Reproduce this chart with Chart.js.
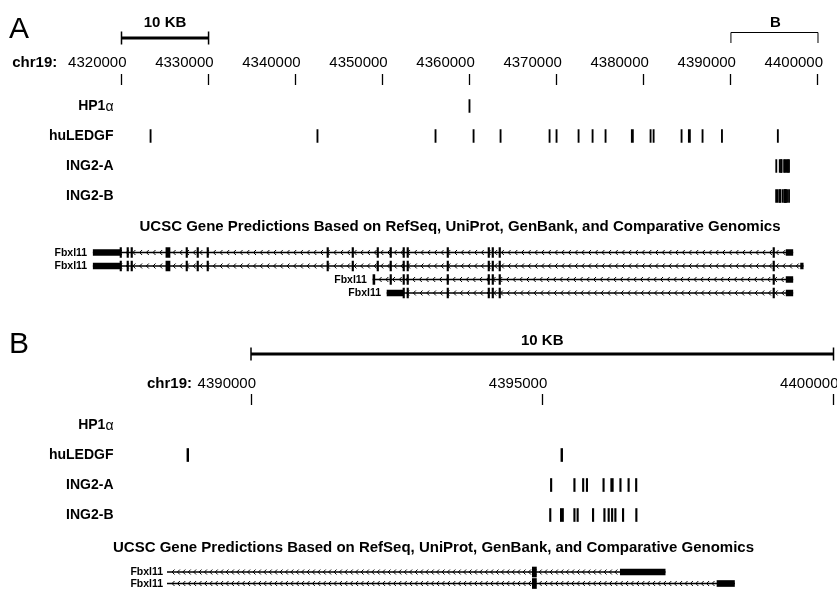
<!DOCTYPE html>
<html>
<head>
<meta charset="utf-8">
<script src="https://cdn.jsdelivr.net/npm/chart.js@4.4.1/dist/chart.umd.min.js"></script>
<style>
  html, body { margin: 0; padding: 0; background: #fff; }
  #wrapA { position: absolute; left: 0; top: 0; width: 837px; height: 310px; }
  #wrapB { position: absolute; left: 0; top: 310px; width: 837px; height: 279px; }
</style>
</head>
<body>
<div id="wrapA"><canvas id="chartA"></canvas></div>
<div id="wrapB"><canvas id="chartB"></canvas></div>
<script>
const FONT = "'Liberation Sans', Arial, Helvetica, sans-serif";

// axis
const chromName = 'chr19:';
const ticksA = [4320000, 4330000, 4340000, 4350000, 4360000, 4370000, 4380000, 4390000, 4400000];
const ticksB = [4390000, 4395000, 4400000];

// tracks (binding sites, bp start/end)
const trackNames = ['HP1\u03b1', 'huLEDGF', 'ING2-A', 'ING2-B'];
const hp1Sites = [[4359900, 4359930]];
const ledgfSites = [
  [4323270, 4323300], [4342440, 4342470], [4356000, 4356030], [4360370, 4360400],
  [4363470, 4363500], [4369100, 4369130], [4369900, 4369930], [4372430, 4372460],
  [4374040, 4374070], [4375530, 4375560], [4378550, 4378800], [4380700, 4380730],
  [4381050, 4381080], [4384260, 4384290], [4385100, 4385350], [4386670, 4386700],
  [4388900, 4388930], [4395320, 4395350]
];
const ing2aSites = [
  [4395140, 4395165], [4395540, 4395565], [4395690, 4395715], [4395755, 4395780],
  [4396040, 4396065], [4396175, 4396220], [4396330, 4396355], [4396470, 4396495],
  [4396600, 4396625]
];
const ing2bSites = [
  [4395125, 4395150], [4395310, 4395365], [4395540, 4395565], [4395595, 4395620],
  [4395860, 4395885], [4396055, 4396080], [4396128, 4396153], [4396187, 4396212],
  [4396243, 4396268], [4396375, 4396400], [4396603, 4396628]
];

// gene predictions
const geneTitle = 'UCSC Gene Predictions Based on RefSeq, UniProt, GenBank, and Comparative Genomics';
const geneName = 'Fbxl11';
const txStart = [4316750, 4316750, 4348880, 4350500];
const txEnd = [4397110, 4398300, 4397110, 4397110];
const sharedExons = [
  [4350840, 4350900], [4352330, 4352400], [4352790, 4352860], [4357390, 4357450],
  [4362100, 4362160], [4362560, 4362620], [4363360, 4363430], [4394830, 4394900]
];
const longExons = [
  [4319830, 4319960], [4320630, 4320700], [4321090, 4321160], [4325100, 4325570],
  [4327410, 4327470], [4328670, 4328740], [4329820, 4329900], [4343600, 4343670],
  [4346480, 4346540], [4349350, 4349420]
];
const cdsExons = [
  longExons.concat(sharedExons),
  longExons.concat(sharedExons),
  [[4348880, 4349100]].concat(sharedExons),
  sharedExons.slice(1)
];
const utrBlocks = [
  [[4316750, 4319830], [4396340, 4397110]],
  [[4316750, 4319830], [4398000, 4398300]],
  [[4396340, 4397110]],
  [[4350500, 4352330], [4396340, 4397110]]
];

Chart.defaults.font.family = FONT;
Chart.defaults.color = '#000';

const panels = [
  { canvas: 'chartA', letter: 'A', letterBase: 38,
    min: 4316600, max: 4400200, pad: { top: 52, left: 91.9, right: 17.26, bottom: 0 },
    ticks: ticksA, tickPad: 2, yMax: 7.5, trackTop: 0.7, titleRow: 4.733, titleX: 460,
    geneRow0: 5.583, geneStep: 0.45, showTx: [0, 1, 2, 3],
    barFrom: 4320000, barY: 38, barLabelBase: 27, chrRight: 57.3, chevGap: 6.7, geneGap: 6,
    bracket: { from: 4390000, to: 4400000, y: 32.5, bottom: 43, labelBase: 26.5 } },
  { canvas: 'chartB', letter: 'B', letterBase: 43,
    min: 4388560, max: 4400060, pad: { top: 64, left: 167.12, right: 0, bottom: 0 },
    ticks: ticksB, tickPad: 1, yMax: 6.133, trackTop: 0.667, titleRow: 4.767, titleX: 433.5,
    geneRow0: 5.567, geneStep: 0.383, showTx: [0, 1],
    barFrom: 4390000, barY: 44, barLabelBase: 35, chrRight: 192, chevGap: 5.4, geneGap: 4,
    bracket: null }
];

function spans(list, row) {
  return list.map(s => ({ x: [s[0], s[1]], y: row }));
}
function barSet(data, thickness, minLen) {
  return { data: data, barThickness: thickness, minBarLength: minLen,
           backgroundColor: '#000', borderWidth: 0, grouped: false };
}

function buildDatasets(p) {
  const sets = [];
  [hp1Sites, ledgfSites, ing2aSites, ing2bSites].forEach((list, i) => {
    sets.push(barSet(spans(list, p.trackTop + i), 13, 1.2));
  });
  p.showTx.forEach((t, r) => {
    const row = p.geneRow0 + r * p.geneStep;
    sets.push(barSet([{ x: [txStart[t], txEnd[t]], y: row }], 1, 0));
    sets.push(barSet(spans(utrBlocks[t], row), 6, 1.5));
    sets.push(barSet(spans(cdsExons[t], row), 10, 1.5));
  });
  return sets;
}

function decor(p) {
  return {
    id: 'decor' + p.letter,
    beforeDatasetsDraw(chart) {
      // strand arrows on the intron lines
      const { ctx, chartArea, scales: { x, y } } = chart;
      ctx.save();
      ctx.strokeStyle = '#000';
      ctx.lineWidth = 1;
      p.showTx.forEach((t, r) => {
        const yy = y.getPixelForValue(p.geneRow0 + r * p.geneStep);
        const x0 = Math.max(x.getPixelForValue(txStart[t]), chartArea.left);
        const x1 = Math.min(x.getPixelForValue(txEnd[t]), chartArea.right);
        ctx.beginPath();
        for (let cx = x0 + p.chevGap; cx < x1 - 2; cx += p.chevGap) {
          ctx.moveTo(cx + 2, yy - 2.5);
          ctx.lineTo(cx - 0.5, yy);
          ctx.lineTo(cx + 2, yy + 2.5);
        }
        ctx.stroke();
      });
      ctx.restore();
    },
    afterDraw(chart) {
      const { ctx, chartArea, scales: { x, y } } = chart;
      ctx.save();
      ctx.fillStyle = '#000';
      ctx.strokeStyle = '#000';

      // panel letter
      ctx.font = '30px ' + FONT;
      ctx.textAlign = 'left';
      ctx.textBaseline = 'alphabetic';
      ctx.fillText(p.letter, 9, p.letterBase);

      // 10 KB scale bar
      const xs = x.getPixelForValue(p.barFrom);
      const xe = x.getPixelForValue(p.barFrom + 10000);
      ctx.lineWidth = 3;
      ctx.beginPath();
      ctx.moveTo(xs, p.barY); ctx.lineTo(xe, p.barY);
      ctx.stroke();
      ctx.lineWidth = 1.5;
      ctx.beginPath();
      ctx.moveTo(xs, p.barY - 6.5); ctx.lineTo(xs, p.barY + 6.5);
      ctx.moveTo(xe, p.barY - 6.5); ctx.lineTo(xe, p.barY + 6.5);
      ctx.stroke();
      ctx.font = 'bold 15px ' + FONT;
      ctx.textAlign = 'center';
      ctx.fillText('10 KB', (xs + xe) / 2, p.barLabelBase);

      // bracket marking the zoomed region
      if (p.bracket) {
        const b = p.bracket;
        const bs = x.getPixelForValue(b.from), be = x.getPixelForValue(b.to);
        ctx.lineWidth = 1;
        ctx.beginPath();
        ctx.moveTo(bs, b.bottom); ctx.lineTo(bs, b.y); ctx.lineTo(be, b.y); ctx.lineTo(be, b.bottom);
        ctx.stroke();
        ctx.fillText('B', (bs + be) / 2 + 1, b.labelBase);
      }

      // chromosome name next to the tick labels
      ctx.textAlign = 'right';
      ctx.textBaseline = 'middle';
      ctx.fillText(chromName, p.chrRight, chartArea.top - 11 - p.tickPad - 9);

      // track labels
      trackNames.forEach((name, i) => {
        const yy = y.getPixelForValue(p.trackTop + i);
        if (name.endsWith('\u03b1')) {
          ctx.font = '14px ' + FONT;
          const aw = ctx.measureText('\u03b1').width;
          ctx.fillText('\u03b1', 113.5, yy + 1);
          ctx.font = 'bold 14px ' + FONT;
          ctx.fillText(name.slice(0, -1), 113.5 - aw, yy);
        } else {
          ctx.font = 'bold 14px ' + FONT;
          ctx.fillText(name, 113.5, yy);
        }
      });

      // gene track title
      ctx.font = 'bold 15px ' + FONT;
      ctx.textAlign = 'center';
      ctx.fillText(geneTitle, p.titleX, y.getPixelForValue(p.titleRow));

      // transcript names
      ctx.font = 'bold 10.5px ' + FONT;
      ctx.textAlign = 'right';
      p.showTx.forEach((t, r) => {
        const yy = y.getPixelForValue(p.geneRow0 + r * p.geneStep);
        const xx = Math.max(x.getPixelForValue(txStart[t]), chartArea.left);
        ctx.fillText(geneName, xx - p.geneGap, yy + 0.5);
      });
      ctx.restore();
    }
  };
}

panels.forEach(p => {
  new Chart(document.getElementById(p.canvas), {
    type: 'bar',
    data: { datasets: buildDatasets(p) },
    options: {
      indexAxis: 'y',
      responsive: true,
      maintainAspectRatio: false,
      animation: false,
      layout: { padding: p.pad },
      plugins: { legend: { display: false }, tooltip: { enabled: false } },
      scales: {
        x: {
          type: 'linear',
          position: 'top',
          min: p.min,
          max: p.max,
          afterBuildTicks: s => { s.ticks = p.ticks.map(v => ({ value: v })); },
          ticks: {
            autoSkip: false,
            maxRotation: 0,
            align: 'end',
            labelOffset: 5,
            padding: p.tickPad,
            color: '#000',
            font: { family: FONT, size: 15 },
            callback: v => String(v)
          },
          grid: { drawOnChartArea: false, drawTicks: true, tickLength: 11, tickWidth: 1.3, tickColor: '#000' },
          border: { display: false }
        },
        y: { type: 'linear', display: false, reverse: true, offset: false, min: 0, max: p.yMax,
             grid: { offset: false } }
      }
    },
    plugins: [decor(p)]
  });
});
</script>
</body>
</html>
